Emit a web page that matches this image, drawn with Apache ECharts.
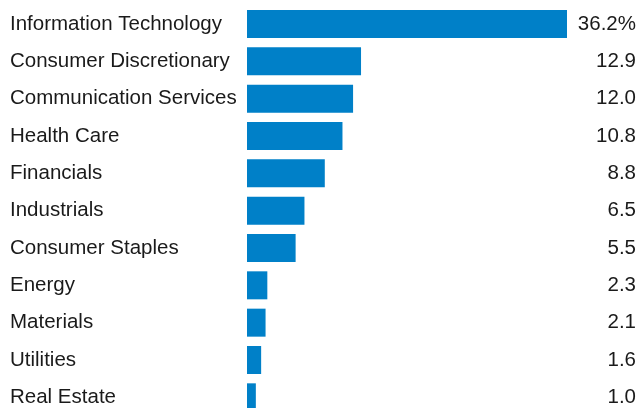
<!DOCTYPE html>
<html><head><meta charset="utf-8">
<script src="https://cdn.jsdelivr.net/npm/echarts@6/dist/echarts.min.js"></script>
<style>html,body{margin:0;padding:0;background:#fff}#c{width:641px;height:408px}</style>
</head><body><div id="c"></div>
<script>
const categories = ["Information Technology","Consumer Discretionary","Communication Services","Health Care","Financials","Industrials","Consumer Staples","Energy","Materials","Utilities","Real Estate"];
const values = [36.2,12.9,12.0,10.8,8.8,6.5,5.5,2.3,2.1,1.6,1.0];
const valueLabels = ["36.2%","12.9","12.0","10.8","8.8","6.5","5.5","2.3","2.1","1.6","1.0"];

const chart = echarts.init(document.getElementById('c'));
const font = {fontFamily:'Liberation Sans', fontSize:20.5, color:'#1a1a1a', padding:[3,0,0,0]};
chart.setOption({
  animation:false,
  grid:{left:247, width:320, top:5.3, height:410.7, outerBoundsMode:'none', containLabel:false},
  xAxis:{type:'value', min:0, max:36.2, show:false},
  yAxis:[
    {type:'category', data:categories, inverse:true, position:'left',
     axisLine:{show:false}, axisTick:{show:false},
     axisLabel:Object.assign({align:'left', margin:237}, font)},
    {type:'category', data:valueLabels, inverse:true, position:'right',
     axisLine:{show:false}, axisTick:{show:false},
     axisLabel:Object.assign({align:'right', margin:69}, font)}
  ],
  series:[{type:'bar', data:values, yAxisIndex:0, barWidth:28,
    itemStyle:{color:'#0080c8'}}]
});
</script></body></html>
